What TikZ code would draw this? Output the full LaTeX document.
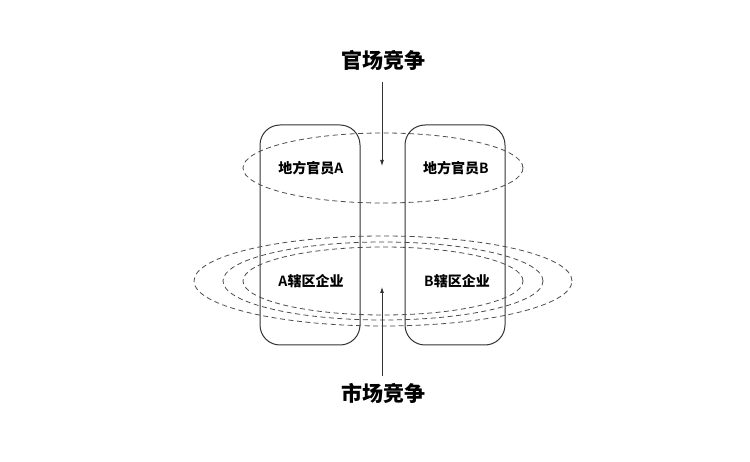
\documentclass[tikz,border=0pt]{standalone}
\usepackage{fontspec}
\newfontfamily\cjk{Noto Sans CJK SC Black}
\newfontfamily\cjkb{Noto Sans CJK SC Black}
\setmainfont{Liberation Sans}
\usetikzlibrary{arrows.meta,shapes.geometric}
\begin{document}
\begin{tikzpicture}[x=1pt,y=-1pt,
  box/.style={draw=black!80,line width=1pt,rounded corners=20pt},
  ring/.style={ellipse,draw=black!70,dash pattern=on 5pt off 3.5pt,line width=0.8pt,inner sep=0pt},
  lbl/.style={font=\fontsize{14}{16}\selectfont\cjk},
  ttl/.style={font=\fontsize{21}{24}\selectfont\cjkb},
  arr/.style={draw=black!80,line width=0.8pt,-{Latex[length=6pt,width=4pt]}}]
\useasboundingbox (0,0) rectangle (750,462);
\node[box,minimum width=100pt,minimum height=220pt] (ba) at (310,235) {};
\node[box,minimum width=100pt,minimum height=220pt] (bb) at (455,235) {};
\node[ring,minimum width=280pt,minimum height=70pt] (eu) at (383,168) {};
\node[ring,minimum width=378pt,minimum height=90pt] (e3) at (383,281) {};
\node[ring,minimum width=320pt,minimum height=78pt] (e2) at (383,281) {};
\node[ring,minimum width=280pt,minimum height=68pt] (e1) at (383,281) {};
\node[lbl] (oa) at (311,168) {地方官员\textbf{A}};
\node[lbl] (ob) at (456,168) {地方官员\textbf{B}};
\node[lbl] (fa) at (311,281) {\textbf{A}辖区企业};
\node[lbl] (fb) at (457,281) {\textbf{B}辖区企业};
\node[ttl] (t1) at (383,60) {官场竞争};
\node[ttl] (t2) at (383,393) {市场竞争};
\coordinate (s1) at (382,82);
\coordinate (c1) at (382,166);
\coordinate (s2) at (382,376);
\coordinate (c2) at (382,287);
\draw[arr] (s1) -- (c1);
\draw[arr] (s2) -- (c2);
\end{tikzpicture}
\end{document}
